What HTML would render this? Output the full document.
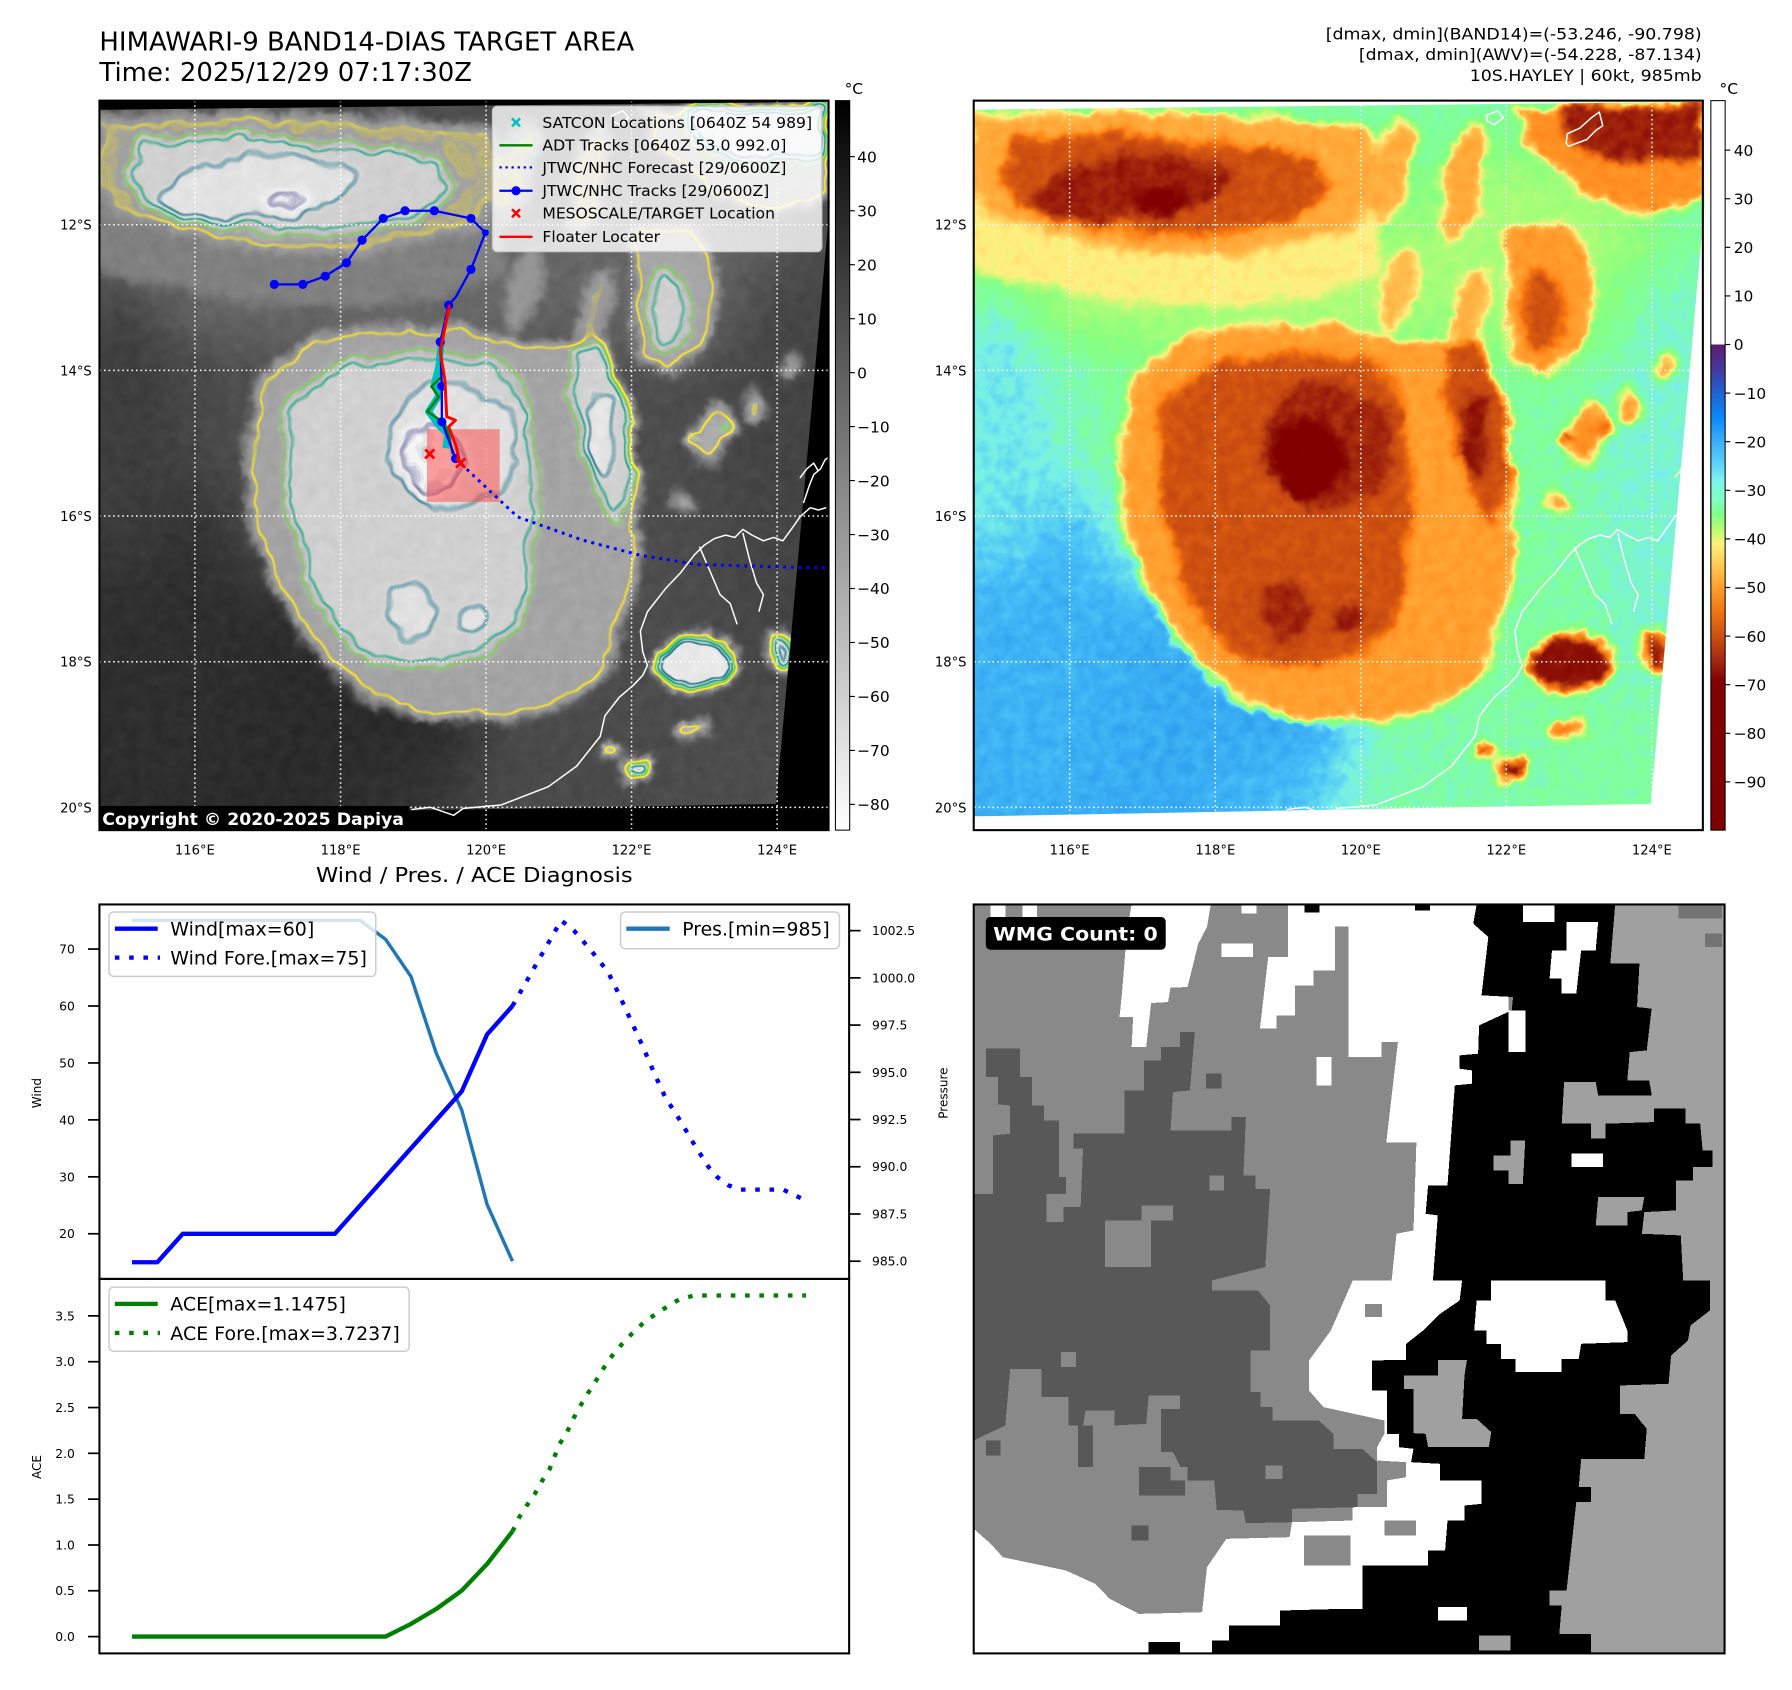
<!DOCTYPE html>
<html><head><meta charset="utf-8">
<style>
html,body{margin:0;padding:0;background:#fff;}
svg{display:block;}
text{font-family:"DejaVu Sans","Liberation Sans",sans-serif;}
</style></head>
<body>
<svg xmlns="http://www.w3.org/2000/svg" width="1792" height="1690" viewBox="0 0 1568 1478" preserveAspectRatio="none">
<defs>
 <clipPath id="dclip"><polygon points="87,96 725,89 726,180 679,703 87,714"/></clipPath>
 <clipPath id="wclip"><rect x="0" y="12" width="1545" height="2246"/></clipPath>
 <filter id="soft" filterUnits="userSpaceOnUse" x="0" y="0" width="820" height="820" color-interpolation-filters="sRGB"><feGaussianBlur stdDeviation="26"/></filter>
 <filter id="cblur" filterUnits="userSpaceOnUse" x="0" y="0" width="820" height="820" color-interpolation-filters="sRGB"><feGaussianBlur stdDeviation="4"/></filter>
 <filter id="disp" filterUnits="userSpaceOnUse" x="40" y="40" width="740" height="740" color-interpolation-filters="sRGB">
  <feTurbulence type="fractalNoise" baseFrequency="0.03" numOctaves="3" seed="4" result="n"/>
  <feDisplacementMap in="SourceGraphic" in2="n" scale="18" xChannelSelector="R" yChannelSelector="G" result="d0"/>
  <feTurbulence type="fractalNoise" baseFrequency="0.11" numOctaves="2" seed="12" result="nf"/>
  <feDisplacementMap in="d0" in2="nf" scale="7" xChannelSelector="R" yChannelSelector="G" result="d"/>
  <feTurbulence type="fractalNoise" baseFrequency="0.09" numOctaves="2" seed="9" result="n2"/>
  <feColorMatrix in="n2" type="matrix" values="1 0 0 0 0  1 0 0 0 0  1 0 0 0 0  0 0 0 0 1" result="ng"/>
  <feComposite in="d" in2="ng" operator="arithmetic" k1="0" k2="1" k3="0.06" k4="-0.03"/>
 </filter>
 <filter id="cont" filterUnits="userSpaceOnUse" x="40" y="40" width="740" height="740" color-interpolation-filters="sRGB">
  <feGaussianBlur in="SourceGraphic" stdDeviation="3" result="sb"/>
  <feColorMatrix in="sb" type="matrix" values="0 0 0 0 0  0 0 0 0 0  0 0 0 0 0  1 0 0 0 0" result="a"/>
  <feComponentTransfer in="a" result="t1"><feFuncA type="linear" slope="40" intercept="-24"/></feComponentTransfer>
  <feMorphology in="t1" operator="erode" radius="1.5" result="e1"/>
  <feComposite in="t1" in2="e1" operator="out" result="o1"/>
  <feFlood flood-color="#fde725"/><feComposite in2="o1" operator="in" result="l1"/>
  <feComponentTransfer in="a" result="t2"><feFuncA type="linear" slope="40" intercept="-27.2"/></feComponentTransfer>
  <feMorphology in="t2" operator="erode" radius="1.3" result="e2"/>
  <feComposite in="t2" in2="e2" operator="out" result="o2"/>
  <feFlood flood-color="#7ad151"/><feComposite in2="o2" operator="in" result="l2"/>
  <feComponentTransfer in="a" result="t3"><feFuncA type="linear" slope="40" intercept="-30.8"/></feComponentTransfer>
  <feMorphology in="t3" operator="erode" radius="1.3" result="e3"/>
  <feComposite in="t3" in2="e3" operator="out" result="o3"/>
  <feFlood flood-color="#22a884"/><feComposite in2="o3" operator="in" result="l3"/>
  <feComponentTransfer in="a" result="t4"><feFuncA type="linear" slope="40" intercept="-33.6"/></feComponentTransfer>
  <feMorphology in="t4" operator="erode" radius="1.3" result="e4"/>
  <feComposite in="t4" in2="e4" operator="out" result="o4"/>
  <feFlood flood-color="#2a788e"/><feComposite in2="o4" operator="in" result="l4"/>
  <feComponentTransfer in="a" result="t5"><feFuncA type="linear" slope="40" intercept="-37.2"/></feComponentTransfer>
  <feMorphology in="t5" operator="erode" radius="1.3" result="e5"/>
  <feComposite in="t5" in2="e5" operator="out" result="o5"/>
  <feFlood flood-color="#414487"/><feComposite in2="o5" operator="in" result="l5"/>
  <feMerge><feMergeNode in="l1"/><feMergeNode in="l2"/><feMergeNode in="l3"/><feMergeNode in="l4"/><feMergeNode in="l5"/></feMerge>
 </filter>
 <filter id="wv" filterUnits="userSpaceOnUse" x="40" y="40" width="740" height="740" color-interpolation-filters="sRGB">
  <feComponentTransfer>
   <feFuncR type="table" tableValues=".125 .125 .157 .188 .282 .471 .502 .533 .659 .816 1 1 1 1 1 .941 .847 .737 .565 .502 .502"/>
   <feFuncG type="table" tableValues=".565 .565 .596 .627 .753 .941 1 1 .996 .973 .941 .816 .706 .612 .518 .439 .353 .251 .078 0 0"/>
   <feFuncB type="table" tableValues=".941 .941 .941 .941 .973 .91 .627 .502 .471 .471 .502 .376 .267 .173 .094 .063 .063 .063 .031 0 0"/>
  </feComponentTransfer>
 </filter>
 <linearGradient id="gbar" x1="0" y1="0" x2="0" y2="1"><stop offset="0" stop-color="#000"/><stop offset="1" stop-color="#fff"/></linearGradient>
 <linearGradient id="cbar" x1="0" y1="0" x2="0" y2="1">
  <stop offset="0" stop-color="#fff"/><stop offset="0.3342" stop-color="#fff"/>
  <stop offset="0.3343" stop-color="#5c1a6e"/><stop offset="0.3677" stop-color="#44399e"/>
  <stop offset="0.401" stop-color="#1f62d2"/><stop offset="0.4342" stop-color="#0a8af8"/>
  <stop offset="0.4676" stop-color="#3aaefc"/><stop offset="0.5008" stop-color="#5fd6fa"/>
  <stop offset="0.5208" stop-color="#7cf4ee"/><stop offset="0.5475" stop-color="#80ffc0"/>
  <stop offset="0.5674" stop-color="#80ff88"/><stop offset="0.5874" stop-color="#b8fc72"/>
  <stop offset="0.6074" stop-color="#fbf27a"/><stop offset="0.634" stop-color="#ffcc58"/>
  <stop offset="0.6674" stop-color="#ff9e2c"/><stop offset="0.7006" stop-color="#f27412"/>
  <stop offset="0.734" stop-color="#cc5010"/><stop offset="0.7673" stop-color="#a42812"/>
  <stop offset="0.794" stop-color="#820202"/><stop offset="1" stop-color="#800000"/>
 </linearGradient>

 <g id="fieldraw">
  <g filter="url(#disp)">
   <rect x="40" y="40" width="740" height="740" fill="#4d4d4d"/>
   <g filter="url(#soft)">
    <ellipse cx="330" cy="250" rx="240" ry="55" fill="#6a6a6a"/>
    <ellipse cx="570" cy="220" rx="120" ry="90" fill="#666"/>
    <ellipse cx="200" cy="650" rx="230" ry="140" fill="#2b2b2b"/>
    <ellipse cx="130" cy="560" rx="90" ry="160" fill="#2e2e2e"/>
    <ellipse cx="110" cy="380" rx="50" ry="130" fill="#3d3d3d"/>
    <ellipse cx="690" cy="420" rx="60" ry="200" fill="#444"/>
    <ellipse cx="500" cy="670" rx="100" ry="45" fill="#4a4a4a"/>
    <ellipse cx="360" cy="700" rx="60" ry="30" fill="#333"/>
   </g>
   <g filter="url(#cblur)">
    <polygon points="80,170 250,190 440,185 445,240 380,262 300,270 200,262 120,250 80,235" fill="#808080"/>
    <polygon points="87,100 200,96 330,100 430,110 445,150 420,200 360,215 300,222 220,216 150,202 100,186 80,170 80,100" fill="#9e9e9e"/>
    <polygon points="120,120 200,115 300,125 380,135 400,165 360,195 290,205 200,200 140,185 110,160" fill="#d0d0d0"/>
    <ellipse cx="225" cy="165" rx="85" ry="30" transform="rotate(-6 225 165)" fill="#e2e2e2"/>
    <ellipse cx="250" cy="176" rx="24" ry="13" fill="#f2f2f2"/>
    <ellipse cx="452" cy="150" rx="18" ry="45" transform="rotate(15 452 150)" fill="#9c9c9c"/>
    <ellipse cx="458" cy="252" rx="14" ry="40" transform="rotate(15 458 252)" fill="#969696"/>
    <ellipse cx="515" cy="160" rx="16" ry="55" transform="rotate(12 515 160)" fill="#9e9e9e"/>
    <ellipse cx="522" cy="272" rx="14" ry="40" transform="rotate(12 522 272)" fill="#9a9a9a"/>
    <polygon points="550,200 600,190 630,240 620,300 590,330 560,320" fill="#a6a6a6"/>
    <ellipse cx="585" cy="270" rx="18" ry="38" fill="#d0d0d0"/>
    <polygon points="560,92 725,92 725,170 680,190 620,170 575,130" fill="#acacac"/>
    <polygon points="600,90 725,90 725,135 680,145 625,135 600,118" fill="#e2e2e2"/>
    <polygon points="225,330 260,300 300,288 350,282 410,286 460,298 500,300 540,330 555,380 562,440 557,500 545,560 520,600 480,625 420,632 370,628 320,610 285,585 255,545 232,500 218,450 215,390" fill="#a4a4a4"/>
    <polygon points="255,345 300,318 370,308 430,316 462,345 470,420 466,500 450,555 410,580 360,585 320,575 290,545 265,495 250,440 248,390" fill="#d0d0d0"/>
    <ellipse cx="395" cy="390" rx="58" ry="58" fill="#e0e0e0"/>
    <ellipse cx="378" cy="400" rx="31" ry="35" fill="#f4f4f4"/>
    <ellipse cx="362" cy="535" rx="25" ry="28" fill="#e0e0e0"/>
    <ellipse cx="413" cy="540" rx="12" ry="14" fill="#e4e4e4"/>
    <polygon points="495,300 530,300 555,360 555,430 540,460 520,430 505,370" fill="#d0d0d0"/>
    <ellipse cx="525" cy="380" rx="12" ry="40" fill="#e6e6e6"/>
    <ellipse cx="610" cy="580" rx="35" ry="25" fill="#e8e8e8"/>
    <ellipse cx="683" cy="570" rx="12" ry="16" fill="#e2e2e2"/>
    <ellipse cx="558" cy="672" rx="15" ry="10" fill="#e4e4e4"/>
    <ellipse cx="535" cy="655" rx="10" ry="7" fill="#d0d0d0"/>
    <ellipse cx="625" cy="380" rx="13" ry="25" transform="rotate(20 625 380)" fill="#acacac"/>
    <ellipse cx="605" cy="385" rx="6" ry="8" fill="#dedede"/>
    <ellipse cx="640" cy="375" rx="5" ry="6" fill="#d4d4d4"/>
    <ellipse cx="660" cy="355" rx="10" ry="15" fill="#a4a4a4"/>
    <ellipse cx="690" cy="320" rx="8" ry="12" fill="#a0a0a0"/>
    <ellipse cx="598" cy="440" rx="10" ry="8" fill="#a4a4a4"/>
    <ellipse cx="605" cy="640" rx="15" ry="10" fill="#b4b4b4"/>
   </g>
  </g>
 </g>

 <g id="grid" stroke="#fff" stroke-width="1.3" stroke-dasharray="1.4 2.6" fill="none">
  <line x1="170.5" y1="88" x2="170.5" y2="726"/><line x1="298" y1="88" x2="298" y2="726"/>
  <line x1="425.3" y1="88" x2="425.3" y2="726"/><line x1="552.6" y1="88" x2="552.6" y2="726"/>
  <line x1="680" y1="88" x2="680" y2="726"/>
  <line x1="87" y1="196.5" x2="725" y2="196.5"/><line x1="87" y1="323.9" x2="725" y2="323.9"/>
  <line x1="87" y1="451.3" x2="725" y2="451.3"/><line x1="87" y1="578.7" x2="725" y2="578.7"/>
  <line x1="87" y1="706.1" x2="725" y2="706.1"/>
 </g>
 <g id="coast" stroke="#fff" stroke-width="1.3" fill="none" stroke-linejoin="round">
  <path d="M360,708 L376.6,706 L397,713 L405.4,707 L438.5,704 L479.8,688 L504.6,670 L525.2,644 L529.3,626 L541.7,610 L554,599.5 L562.4,590.6 L566.5,582 L562.4,570 L560.3,552 L566.5,535 L583,514 L595.4,501 L601.6,493 L607.8,485 L616,477 L625,471 L635,468 L643,470 L650,463 L658,468 L668,473 L677,470 L685,473 L693,462 L700,452 L709,444 L716,446 L723,444"/>
  <path d="M612,478 L621,499 L630,520 L639,528 L645,546"/>
  <path d="M650,466 L656,490 L662,510 L668,520 L664,535"/>
  <path d="M703,440 L708,425 L712,415 L718,410 L722,402 L725,400"/>
  <path d="M700,418 L706,410 L712,405 L716,412"/>
  <path d="M605,125 L606,117 L617,112 L627,103 L634,98 L637,110 L631,114 L623,122 L607,128 Z"/>
  <path d="M535,101 L545,97 L550,103 L542,109 L536,106 Z"/>
 </g>
</defs>

<text x="87" y="44.3" font-size="22.5" textLength="468" lengthAdjust="spacingAndGlyphs">HIMAWARI-9 BAND14-DIAS TARGET AREA</text>
<text x="87" y="70.9" font-size="22.5" textLength="326" lengthAdjust="spacingAndGlyphs">Time: 2025/12/29 07:17:30Z</text>
<g font-size="14.3" text-anchor="end">
 <text x="1489" y="34.4" textLength="329" lengthAdjust="spacingAndGlyphs">[dmax, dmin](BAND14)=(-53.246, -90.798)</text>
 <text x="1489" y="52.6" textLength="300" lengthAdjust="spacingAndGlyphs">[dmax, dmin](AWV)=(-54.228, -87.134)</text>
 <text x="1489" y="70.9" textLength="203" lengthAdjust="spacingAndGlyphs">10S.HAYLEY | 60kt, 985mb</text>
</g>

<!-- LEFT MAP -->
<rect x="87" y="88" width="638" height="638" fill="#000"/>
<g clip-path="url(#dclip)"><use href="#fieldraw"/></g>
<g clip-path="url(#dclip)"><use href="#fieldraw" filter="url(#cont)"/></g>
<use href="#grid"/>
<use href="#coast"/>
<rect x="373.6" y="375.3" width="63.6" height="63.6" fill="#ff3030" fill-opacity="0.45"/>
<polyline points="398.6,401 409.3,411.2 452.8,452 509.8,472.4 560,485.6 610.2,493.7 700,496.3 725,496.5" fill="none" stroke="#0000ff" stroke-width="2.6" stroke-dasharray="2.6 4.2"/>
<polyline points="386,300 384,320 380,336 384,346 375,360 384,372 392,380 390,392" fill="none" stroke="#00bfbf" stroke-width="6" stroke-linejoin="round"/>
<polyline points="386,300 386,330 377.5,338 384,347 374,360 389,370 393,382 396,397" fill="none" stroke="#008000" stroke-width="2.2"/>
<polyline points="240,248.7 265,248.7 284.6,241.5 303.2,229.8 316.8,210 335.3,191 354.4,184.3 380,184.3 412.1,191 424.7,203.5 412.1,235.6 399,259.5 392.6,266.8 385.2,299 386.6,337.7 386.6,368.9 398.6,401" fill="none" stroke="#0000ff" stroke-width="2"/>
<g fill="#0000ff">
 <circle cx="240" cy="248.7" r="4"/><circle cx="265" cy="248.7" r="4"/><circle cx="284.6" cy="241.5" r="4"/>
 <circle cx="303.2" cy="229.8" r="4"/><circle cx="316.8" cy="210" r="4"/><circle cx="335.3" cy="191" r="4"/>
 <circle cx="354.4" cy="184.3" r="4"/><circle cx="380" cy="184.3" r="4"/><circle cx="412.1" cy="191" r="4"/>
 <circle cx="424.7" cy="203.5" r="3"/><circle cx="412.1" cy="235.6" r="4"/><circle cx="392.6" cy="266.8" r="4"/>
 <circle cx="385.2" cy="299" r="4"/><circle cx="386.6" cy="337.7" r="4"/><circle cx="386.6" cy="368.9" r="4"/>
 <circle cx="398.6" cy="401" r="4"/>
</g>
<polyline points="393.3,266.8 385.2,307.7 389.3,332.5 390.9,364.5 398.6,367.5 392.6,373.3 399,390 402.6,405.4" fill="none" stroke="#ff0000" stroke-width="2.6" stroke-linejoin="round"/>
<g stroke="#ff0000" stroke-width="2.4">
 <line x1="372" y1="393" x2="380" y2="401"/><line x1="380" y1="393" x2="372" y2="401"/>
 <line x1="399" y1="401" x2="407" y2="409"/><line x1="407" y1="401" x2="399" y2="409"/>
</g>
<rect x="431" y="93" width="288" height="127" rx="4" fill="#fff" fill-opacity="0.8" stroke="#cccccc" stroke-width="1.2"/>
<g stroke="#00bfbf" stroke-width="2.2"><line x1="448" y1="103.5" x2="455" y2="110.5"/><line x1="455" y1="103.5" x2="448" y2="110.5"/></g>
<line x1="437" y1="127.1" x2="466" y2="127.1" stroke="#008000" stroke-width="2"/>
<line x1="437" y1="146.4" x2="466" y2="146.4" stroke="#0000ff" stroke-width="2" stroke-dasharray="2 3.3"/>
<line x1="437" y1="166.8" x2="466" y2="166.8" stroke="#0000ff" stroke-width="2"/><circle cx="451.5" cy="166.8" r="4" fill="#0000ff"/>
<g stroke="#ff0000" stroke-width="2.2"><line x1="448" y1="183" x2="455" y2="190"/><line x1="455" y1="183" x2="448" y2="190"/></g>
<line x1="437" y1="207.1" x2="466" y2="207.1" stroke="#ff0000" stroke-width="2"/>
<g font-size="13.5">
 <text x="474.6" y="112" textLength="236" lengthAdjust="spacingAndGlyphs">SATCON Locations [0640Z 54 989]</text>
 <text x="474.6" y="131.8" textLength="213.5" lengthAdjust="spacingAndGlyphs">ADT Tracks [0640Z 53.0 992.0]</text>
 <text x="474.6" y="151.1" textLength="213.5" lengthAdjust="spacingAndGlyphs">JTWC/NHC Forecast [29/0600Z]</text>
 <text x="474.6" y="171.5" textLength="198.5" lengthAdjust="spacingAndGlyphs">JTWC/NHC Tracks [29/0600Z]</text>
 <text x="474.6" y="191.3" textLength="203.5" lengthAdjust="spacingAndGlyphs">MESOSCALE/TARGET Location</text>
 <text x="474.6" y="211.8" textLength="103" lengthAdjust="spacingAndGlyphs">Floater Locater</text>
</g>
<rect x="87.5" y="704.8" width="270.4" height="21.2" fill="#000"/>
<text x="89.5" y="721.6" font-size="15" font-weight="bold" fill="#fff" textLength="264" lengthAdjust="spacingAndGlyphs">Copyright © 2020-2025 Dapiya</text>
<rect x="87" y="88" width="638" height="638" fill="none" stroke="#000" stroke-width="1.8"/>
<g font-size="11.5" text-anchor="end">
 <text x="80.3" y="200.8">12°S</text><text x="80.3" y="328.2">14°S</text><text x="80.3" y="455.6">16°S</text>
 <text x="80.3" y="583">18°S</text><text x="80.3" y="710.4">20°S</text>
 <text x="845.7" y="200.8">12°S</text><text x="845.7" y="328.2">14°S</text><text x="845.7" y="455.6">16°S</text>
 <text x="845.7" y="583">18°S</text><text x="845.7" y="710.4">20°S</text>
</g>
<g font-size="11.5" text-anchor="middle">
 <text x="170.5" y="747.5">116°E</text><text x="298" y="747.5">118°E</text><text x="425.3" y="747.5">120°E</text>
 <text x="552.6" y="747.5">122°E</text><text x="680" y="747.5">124°E</text>
 <text x="935.9" y="747.5">116°E</text><text x="1063.4" y="747.5">118°E</text><text x="1190.7" y="747.5">120°E</text>
 <text x="1318" y="747.5">122°E</text><text x="1445.4" y="747.5">124°E</text>
</g>
<rect x="731" y="88" width="12.5" height="638" fill="url(#gbar)" stroke="#000" stroke-width="0.9"/>
<text x="739" y="82" font-size="13.5">°C</text>
<g stroke="#000" stroke-width="1"><line x1="743.5" x2="748" y1="137" y2="137"/><line x1="743.5" x2="748" y1="184.3" y2="184.3"/><line x1="743.5" x2="748" y1="231.5" y2="231.5"/><line x1="743.5" x2="748" y1="278.7" y2="278.7"/><line x1="743.5" x2="748" y1="325.9" y2="325.9"/><line x1="743.5" x2="748" y1="373.1" y2="373.1"/><line x1="743.5" x2="748" y1="420.3" y2="420.3"/><line x1="743.5" x2="748" y1="467.5" y2="467.5"/><line x1="743.5" x2="748" y1="514.7" y2="514.7"/><line x1="743.5" x2="748" y1="561.9" y2="561.9"/><line x1="743.5" x2="748" y1="609.1" y2="609.1"/><line x1="743.5" x2="748" y1="656.3" y2="656.3"/><line x1="743.5" x2="748" y1="703.5" y2="703.5"/></g>
<g font-size="13.5">
 <text x="750" y="142">40</text><text x="750" y="189.3">30</text><text x="750" y="236.5">20</text><text x="750" y="283.7">10</text>
 <text x="750" y="330.9">0</text><text x="750" y="378.1">−10</text><text x="750" y="425.3">−20</text><text x="750" y="472.5">−30</text>
 <text x="750" y="519.7">−40</text><text x="750" y="566.9">−50</text><text x="750" y="614.1">−60</text><text x="750" y="661.3">−70</text>
 <text x="750" y="708.5">−80</text>
</g>

<!-- RIGHT MAP -->
<rect x="852" y="88" width="638" height="638" fill="#fff"/>
<g transform="translate(765.4,0)">
 <g clip-path="url(#dclip)"><use href="#fieldraw" filter="url(#wv)"/></g>
 <use href="#grid"/>
 <use href="#coast"/>
</g>
<rect x="852" y="88" width="638" height="638" fill="none" stroke="#000" stroke-width="1.8"/>
<rect x="1497" y="88" width="12.5" height="638" fill="url(#cbar)" stroke="#000" stroke-width="0.9"/>
<text x="1504.6" y="82" font-size="13.5">°C</text>
<g stroke="#000" stroke-width="1"><line x1="1509.5" x2="1514" y1="131.3" y2="131.3"/><line x1="1509.5" x2="1514" y1="173.8" y2="173.8"/><line x1="1509.5" x2="1514" y1="216.3" y2="216.3"/><line x1="1509.5" x2="1514" y1="258.8" y2="258.8"/><line x1="1509.5" x2="1514" y1="301.3" y2="301.3"/><line x1="1509.5" x2="1514" y1="343.8" y2="343.8"/><line x1="1509.5" x2="1514" y1="386.3" y2="386.3"/><line x1="1509.5" x2="1514" y1="428.8" y2="428.8"/><line x1="1509.5" x2="1514" y1="471.3" y2="471.3"/><line x1="1509.5" x2="1514" y1="513.8" y2="513.8"/><line x1="1509.5" x2="1514" y1="556.3" y2="556.3"/><line x1="1509.5" x2="1514" y1="598.8" y2="598.8"/><line x1="1509.5" x2="1514" y1="641.3" y2="641.3"/><line x1="1509.5" x2="1514" y1="683.8" y2="683.8"/></g>
<g font-size="13.5">
 <text x="1517" y="136.3">40</text><text x="1517" y="178.8">30</text><text x="1517" y="221.3">20</text><text x="1517" y="263.8">10</text>
 <text x="1517" y="306.3">0</text><text x="1517" y="348.8">−10</text><text x="1517" y="391.3">−20</text><text x="1517" y="433.8">−30</text>
 <text x="1517" y="476.3">−40</text><text x="1517" y="518.8">−50</text><text x="1517" y="561.3">−60</text><text x="1517" y="603.8">−70</text>
 <text x="1517" y="646.3">−80</text><text x="1517" y="688.8">−90</text>
</g>

<!-- WIND / PRES / ACE -->
<text x="415" y="771.5" font-size="17.5" text-anchor="middle" textLength="277" lengthAdjust="spacingAndGlyphs">Wind / Pres. / ACE Diagnosis</text>
<rect x="87" y="791" width="656" height="327.5" fill="#fff"/>
<polyline points="115.5,805 315.2,805 337.4,821.5 359.6,854 381.8,921.3 404,970.8 426.2,1053.4 448.4,1103" fill="none" stroke="#1f77b4" stroke-width="3" stroke-linejoin="round"/>
<polyline points="115.5,1103.9 137.7,1103.9 159.9,1079 293,1079 315.2,1054.1 337.4,1029.2 359.6,1004.3 381.8,979.4 404,954.5 426.2,904.7 448.4,879.8" fill="none" stroke="#0000ff" stroke-width="3.8" stroke-linejoin="round"/>
<polyline points="448.4,879.8 491,805 502,813.6 517,831 532,850 542,870.5 552,892.4 562,914.2 572,937.5 582,959.4 595,979.8 607,1000.2 620,1020.6 627.5,1029.4 637.5,1036.7 647.6,1040.4 685.2,1040.4 707.8,1051.2" fill="none" stroke="#0000ff" stroke-width="3.8" stroke-dasharray="4 8.5"/>
<rect x="95.4" y="797.6" width="233.4" height="56.3" rx="4" fill="#fff" fill-opacity="0.8" stroke="#cccccc" stroke-width="1.3"/>
<line x1="100.5" y1="812.2" x2="138" y2="812.2" stroke="#0000ff" stroke-width="3.8"/>
<line x1="100.5" y1="837.5" x2="140" y2="837.5" stroke="#0000ff" stroke-width="3.8" stroke-dasharray="4 8.5"/>
<text x="149" y="818" font-size="16.3" textLength="126" lengthAdjust="spacingAndGlyphs">Wind[max=60]</text>
<text x="149" y="843.5" font-size="16.3" textLength="172" lengthAdjust="spacingAndGlyphs">Wind Fore.[max=75]</text>
<rect x="543" y="797.6" width="191.5" height="32.1" rx="4" fill="#fff" fill-opacity="0.8" stroke="#cccccc" stroke-width="1.3"/>
<line x1="548" y1="812.2" x2="586" y2="812.2" stroke="#1f77b4" stroke-width="3.8"/>
<text x="597" y="818" font-size="16.3" textLength="129" lengthAdjust="spacingAndGlyphs">Pres.[min=985]</text>
<polyline points="115.5,1431.3 337.4,1431.3 359.6,1420.2 381.8,1407.1 404,1391.1 426.2,1367.8 448.4,1339.3" fill="none" stroke="#008000" stroke-width="3.8" stroke-linejoin="round"/>
<polyline points="448.4,1339.3 454.3,1327 460.8,1316.8 467.9,1306.6 474.4,1295 480.9,1284.8 489.5,1263 496,1252.8 501,1242 507,1230.9 513,1220.7 519.6,1210.5 526,1200.3 532,1190.1 539.7,1180.8 547.2,1172 556.2,1163.3 564.8,1155.1 574.8,1148.7 584.8,1142 594.9,1136.2 607.4,1133 705.3,1133" fill="none" stroke="#008000" stroke-width="3.8" stroke-dasharray="4 8.5"/>
<rect x="95.4" y="1125.7" width="262.6" height="56" rx="4" fill="#fff" fill-opacity="0.8" stroke="#cccccc" stroke-width="1.3"/>
<line x1="100.5" y1="1140.3" x2="138" y2="1140.3" stroke="#008000" stroke-width="3.8"/>
<line x1="100.5" y1="1165.7" x2="140" y2="1165.7" stroke="#008000" stroke-width="3.8" stroke-dasharray="4 8.5"/>
<text x="149" y="1146.3" font-size="16.3" textLength="153.6" lengthAdjust="spacingAndGlyphs">ACE[max=1.1475]</text>
<text x="149" y="1171.7" font-size="16.3" textLength="200.8" lengthAdjust="spacingAndGlyphs">ACE Fore.[max=3.7237]</text>
<rect x="87" y="791" width="656" height="327.5" fill="none" stroke="#000" stroke-width="1.8"/>
<rect x="87" y="1118.5" width="656" height="327.5" fill="none" stroke="#000" stroke-width="1.8"/>
<g stroke="#000" stroke-width="1.5">
 <line x1="77" x2="87" y1="1079" y2="1079"/><line x1="77" x2="87" y1="1029.2" y2="1029.2"/><line x1="77" x2="87" y1="979.4" y2="979.4"/>
 <line x1="77" x2="87" y1="929.6" y2="929.6"/><line x1="77" x2="87" y1="879.8" y2="879.8"/><line x1="77" x2="87" y1="830" y2="830"/>
 <line x1="743" x2="753" y1="1103" y2="1103"/><line x1="743" x2="753" y1="1061.7" y2="1061.7"/><line x1="743" x2="753" y1="1020.4" y2="1020.4"/>
 <line x1="743" x2="753" y1="979.1" y2="979.1"/><line x1="743" x2="753" y1="937.8" y2="937.8"/><line x1="743" x2="753" y1="896.5" y2="896.5"/>
 <line x1="743" x2="753" y1="855.2" y2="855.2"/><line x1="743" x2="753" y1="813.9" y2="813.9"/>
 <line x1="77" x2="87" y1="1431.3" y2="1431.3"/><line x1="77" x2="87" y1="1391.2" y2="1391.2"/><line x1="77" x2="87" y1="1351.2" y2="1351.2"/>
 <line x1="77" x2="87" y1="1311.1" y2="1311.1"/><line x1="77" x2="87" y1="1271" y2="1271"/><line x1="77" x2="87" y1="1231" y2="1231"/>
 <line x1="77" x2="87" y1="1190.9" y2="1190.9"/><line x1="77" x2="87" y1="1150.8" y2="1150.8"/>
</g>
<g font-size="10.8" text-anchor="end">
 <text x="65.5" y="1082.9">20</text><text x="65.5" y="1033.1">30</text><text x="65.5" y="983.3">40</text>
 <text x="65.5" y="933.5">50</text><text x="65.5" y="883.7">60</text><text x="65.5" y="833.9">70</text>
 <text x="65.5" y="1435.2">0.0</text><text x="65.5" y="1395.1">0.5</text><text x="65.5" y="1355.1">1.0</text>
 <text x="65.5" y="1315">1.5</text><text x="65.5" y="1274.9">2.0</text><text x="65.5" y="1234.9">2.5</text>
 <text x="65.5" y="1194.8">3.0</text><text x="65.5" y="1154.7">3.5</text>
</g>
<g font-size="10.8">
 <text x="763" y="1106.9">985.0</text><text x="763" y="1065.6">987.5</text><text x="763" y="1024.3">990.0</text>
 <text x="763" y="983">992.5</text><text x="763" y="941.7">995.0</text><text x="763" y="900.4">997.5</text>
 <text x="763" y="859.1">1000.0</text><text x="763" y="817.8">1002.5</text>
</g>
<text transform="translate(36,956) rotate(-90)" font-size="10.5" text-anchor="middle">Wind</text>
<text transform="translate(36,1283) rotate(-90)" font-size="10.5" text-anchor="middle">ACE</text>
<text transform="translate(829,956) rotate(-90)" font-size="10.5" text-anchor="middle">Pressure</text>

<!-- WMG -->
<g transform="translate(852,787.4) scale(0.4252,0.2916)" shape-rendering="crispEdges">
 <g clip-path="url(#wclip)">
  <rect x="0" y="12" width="1545" height="2246" fill="#898989"/>
  <polygon fill="#a0a0a0" points="1300,12 1545,12 1545,2258 1180,2258 1180,1700 1200,1400 1250,1000 1290,500"/>
  <rect x="1450" y="15" width="90" height="40" fill="#737373"/>
  <rect x="1505" y="100" width="35" height="40" fill="#737373"/>
  <g fill="#fff">
   <polygon points="325,12 488,12 480,80 462,130 440,260 405,262 400,305 365,308 355,440 325,440 328,350 300,350 305,280 315,100"/>
   <rect x="35" y="15" width="30" height="35"/><rect x="100" y="15" width="30" height="35"/>
   <rect x="551" y="12" width="31" height="28"/>
   <rect x="510" y="130" width="65" height="40"/>
   <polygon points="647,12 1100,12 1100,1000 905,990 911,726 849,726 873,425 839,425 839,470 771,470 771,78 743,78 743,210 699,210 699,255 661,255 661,345 623,345 623,385 589,385 606,170 647,170"/>
   <polygon points="705,470 736,470 736,555 705,555"/>
   <polygon points="911,726 1100,726 1100,2258 0,2258 0,1885 35,1930 60,1970 190,2010 250,2050 280,2095 340,2140 470,2135 480,2000 520,1915 650,1910 655,1865 780,1860 780,1820 850,1820 850,1740 890,1730 890,1685 830,1680 830,1640 845,1600 845,1560 720,1520 690,1470 690,1380 735,1290 780,1140 860,1140 870,1000 905,990"/>
  </g>
  <rect x="680" y="1905" width="95" height="90" fill="#898989"/>
  <rect x="845" y="1860" width="65" height="45" fill="#898989"/>
  <rect x="805" y="1210" width="35" height="40" fill="#898989"/>
  <polygon fill="#000" points="1035,12 1028,70 1059,110 1045,285 1110,290 1107,330 1040,375 1038,460 1000,465 1000,505 1025,510 1025,550 990,555 975,855 935,855 930,940 955,945 945,1140 1005,1140 1000,1200 960,1240 925,1290 890,1330 890,1378 820,1380 820,1470 850,1470 850,1600 875,1600 875,1640 905,1645 900,1685 960,1690 960,1740 1045,1740 1045,1810 1010,1815 1010,1860 975,1860 970,1950 935,1950 935,1995 800,1995 800,2125 760,2125 630,2130 630,2175 525,2175 525,2220 490,2220 490,2258 1270,2258 1270,2200 1205,2200 1210,2115 1185,2115 1185,2070 1220,2070 1240,1805 1270,1805 1270,1760 1245,1760 1250,1675 1380,1675 1385,1585 1360,1540 1330,1540 1330,1455 1430,1450 1435,1365 1470,1320 1475,1275 1515,1230 1515,1140 1460,1140 1455,1005 1375,1000 1380,935 1445,930 1445,840 1480,840 1480,800 1520,800 1520,750 1500,750 1495,670 1465,670 1465,625 1400,625 1390,540 1345,540 1350,455 1385,450 1395,325 1365,320 1370,190 1310,190 1320,12"/>
  <g fill="#000">
   <rect x="681" y="12" width="31" height="24"/><rect x="908" y="12" width="31" height="18"/>
   <rect x="360" y="2225" width="65" height="33"/>
  </g>
  <g fill="#a0a0a0">
   <polygon points="1215,545 1280,545 1285,585 1400,585 1400,665 1300,670 1300,715 1270,715 1270,670 1210,670"/>
   <polygon points="1105,720 1135,720 1130,850 1100,850 1100,810 1070,810 1070,765 1105,765"/>
   <polygon points="1285,890 1380,890 1375,930 1345,935 1345,975 1280,975"/>
   <polygon points="955,1378 1015,1378 1010,1425 1005,1555 1035,1555 1065,1595 1060,1640 935,1640 930,1600 905,1598 905,1465 885,1465 885,1425 955,1425"/>
   <rect x="1040" y="2205" width="65" height="45"/>
  </g>
  <g fill="#fff">
   <rect x="1130" y="15" width="65" height="50"/>
   <polygon points="1220,65 1285,65 1280,150 1250,150 1240,280 1210,280 1210,235 1185,235 1190,150 1220,150"/>
   <rect x="1100" y="330" width="35" height="125"/>
   <rect x="1230" y="760" width="65" height="40"/>
   <polygon points="1065,1140 1300,1140 1300,1200 1320,1200 1345,1290 1345,1325 1250,1330 1245,1375 1210,1375 1210,1415 1115,1415 1115,1375 1085,1375 1085,1330 1055,1330 1055,1290 1030,1290 1035,1200 1065,1200"/>
   <rect x="955" y="2120" width="60" height="40"/>
  </g>
  <polygon fill="#585858" points="25,445 95,445 95,530 120,530 120,615 145,615 145,660 175,660 175,830 190,830 190,880 150,880 150,965 185,965 185,920 220,920 225,745 205,745 205,700 310,700 310,570 350,570 350,480 385,480 385,440 425,440 425,395 455,395 450,480 445,570 410,575 405,690 530,690 530,650 560,650 555,825 580,825 580,865 610,865 600,1100 490,1140 490,1170 585,1170 610,1215 610,1350 570,1350 570,1475 590,1475 590,1520 615,1520 615,1560 710,1560 740,1600 740,1645 800,1645 830,1685 830,1780 790,1780 790,1820 655,1825 655,1865 560,1868 555,1830 500,1828 495,1740 440,1740 410,1655 385,1655 385,1525 425,1525 425,1485 360,1485 355,1570 290,1575 290,1530 230,1530 225,1575 195,1575 195,1490 140,1490 140,1405 75,1405 65,1575 0,1620 0,880 40,880 40,705 75,700 75,615 50,612 50,530 25,530"/>
  <g fill="#585858">
   <rect x="215" y="1575" width="30" height="125"/><rect x="25" y="1620" width="30" height="45"/>
   <rect x="325" y="1875" width="35" height="45"/><rect x="340" y="1700" width="95" height="85"/>
   <rect x="478" y="520" width="32" height="45"/>
  </g>
  <g fill="#898989">
   <polygon points="345,915 410,915 410,960 365,960 365,1100 270,1100 270,960 345,960"/>
   <rect x="485" y="825" width="30" height="45"/><rect x="180" y="1355" width="30" height="45"/>
   <rect x="600" y="1695" width="35" height="40"/><rect x="405" y="1700" width="35" height="40"/>
  </g>
 </g>
</g>
<rect x="852" y="791" width="657" height="655" fill="none" stroke="#000" stroke-width="1.8"/>
<rect x="862.6" y="802" width="157.4" height="28.6" rx="4" fill="#000"/>
<text x="869" y="822.5" font-size="16" font-weight="bold" fill="#fff" textLength="144" lengthAdjust="spacingAndGlyphs">WMG Count: 0</text>
</svg>
</body></html>
